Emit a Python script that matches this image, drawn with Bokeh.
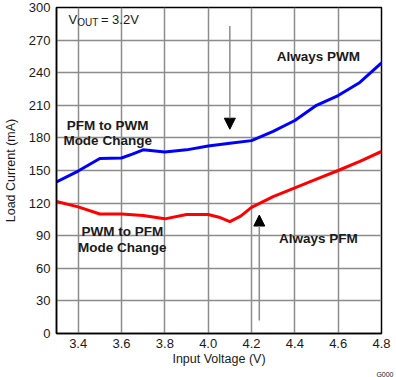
from bokeh.plotting import figure
from bokeh.models import FixedTicker, PrintfTickFormatter, Arrow, NormalHead, Title
from bokeh.core.properties import value
from bokeh.embed import file_html
from bokeh.resources import INLINE

# ---- data ----
pwm_x = [3.3, 3.4, 3.5, 3.6, 3.65, 3.7, 3.8, 3.9, 4.0, 4.1, 4.2, 4.3, 4.4, 4.5, 4.6, 4.7, 4.8]
pwm_y = [139.5, 149.5, 161, 161.5, 165, 169, 167, 169, 172.5, 175, 177.5, 186, 196, 210, 219, 231, 249]

pfm_x = [3.3, 3.4, 3.5, 3.6, 3.7, 3.8, 3.9, 4.0, 4.05, 4.1, 4.15, 4.2, 4.3, 4.4, 4.5, 4.6, 4.7, 4.8]
pfm_y = [121.5, 116.5, 110, 110, 108.5, 105.5, 109.5, 109.5, 107, 103, 108, 116, 126, 134, 142, 150, 158.5, 167.5]

x_ticks = [3.4, 3.6, 3.8, 4.0, 4.2, 4.4, 4.6, 4.8]
y_ticks = [0, 30, 60, 90, 120, 150, 180, 210, 240, 270, 300]

FONT = "Liberation Sans"
TXT = "#1a1a1a"

p = figure(width=396, height=377, x_range=(3.3, 4.8), y_range=(0, 300),
           output_backend="svg", toolbar_location=None,
           min_border_left=51, min_border_right=15, min_border_top=7, min_border_bottom=41)
p.background_fill_color = "white"
p.border_fill_color = "white"
p.outline_line_color = "black"
p.outline_line_width = 1.5

for ax in (p.xaxis, p.yaxis):
    ax.major_tick_in = 0
    ax.major_tick_out = 0
    ax.minor_tick_line_color = None
    ax.axis_line_color = "black"
    ax.axis_line_width = 1.5
    ax.major_label_text_font = FONT
    ax.major_label_text_font_size = "13px"
    ax.major_label_text_color = TXT
    ax.axis_label_text_font = FONT
    ax.axis_label_text_font_size = "12.5px"
    ax.axis_label_text_font_style = "normal"
    ax.axis_label_text_color = TXT

p.xaxis.ticker = FixedTicker(ticks=x_ticks)
p.yaxis.ticker = FixedTicker(ticks=y_ticks)
p.xaxis.formatter = PrintfTickFormatter(format="%.1f")
p.yaxis.formatter = PrintfTickFormatter(format="%d")
p.xaxis.axis_label = "Input Voltage (V)"
p.yaxis.axis_label = "Load Current (mA)"
p.xaxis.major_label_standoff = 5
p.yaxis.major_label_standoff = 6
p.xaxis.axis_label_standoff = 1
p.yaxis.axis_label_standoff = 8

p.xgrid.grid_line_color = "#8c8c8c"
p.ygrid.grid_line_color = "#8c8c8c"
p.xgrid.grid_line_width = 1.5
p.ygrid.grid_line_width = 1.5

p.line(pwm_x, pwm_y, line_color="#0000ff", line_width=3)
p.line(pfm_x, pfm_y, line_color="#ff0000", line_width=3)

# arrows
p.add_layout(Arrow(end=NormalHead(size=11, fill_color="black", line_color="black"),
                   x_start=4.1, y_start=283, x_end=4.1, y_end=188,
                   line_color="#8c8c8c", line_width=1.5))
p.add_layout(Arrow(end=NormalHead(size=11, fill_color="black", line_color="black"),
                   x_start=4.236, y_start=12, x_end=4.236, y_end=109,
                   line_color="#8c8c8c", line_width=1.5))

# annotations
p.text(x=[3.536, 3.536, 3.604, 3.604], y=[191.4, 177.7, 94, 79.6],
       text=["PFM to PWM", "Mode Change", "PWM to PFM", "Mode Change"],
       text_font=value(FONT), text_font_style="bold", text_font_size="13.5px",
       text_align="center", text_baseline="middle", text_color=TXT)
p.text(x=[4.509, 4.509], y=[255, 87], text=["Always PWM", "Always PFM"],
       text_font=value(FONT), text_font_style="bold", text_font_size="13.5px",
       text_align="center", text_baseline="middle", text_color=TXT)

p.text(x=[3.355], y=[289], text=["V"], text_font=value(FONT), text_font_size="13px",
       text_align="left", text_baseline="middle", text_color=TXT)
p.text(x=[3.3955], y=[286.5], text=["OUT"], text_font=value(FONT), text_font_size="10px",
       text_align="left", text_baseline="middle", text_color=TXT)
p.text(x=[3.505], y=[289], text=["= 3.2V"], text_font=value(FONT), text_font_size="13px",
       text_align="left", text_baseline="middle", text_color=TXT)

note = Title(text="G000", align="right", text_font=FONT, text_font_size="7px",
             text_font_style="normal", text_color=TXT, standoff=0, offset=-12)
p.add_layout(note, "below")

open("out.html", "w").write(file_html(p, INLINE))
